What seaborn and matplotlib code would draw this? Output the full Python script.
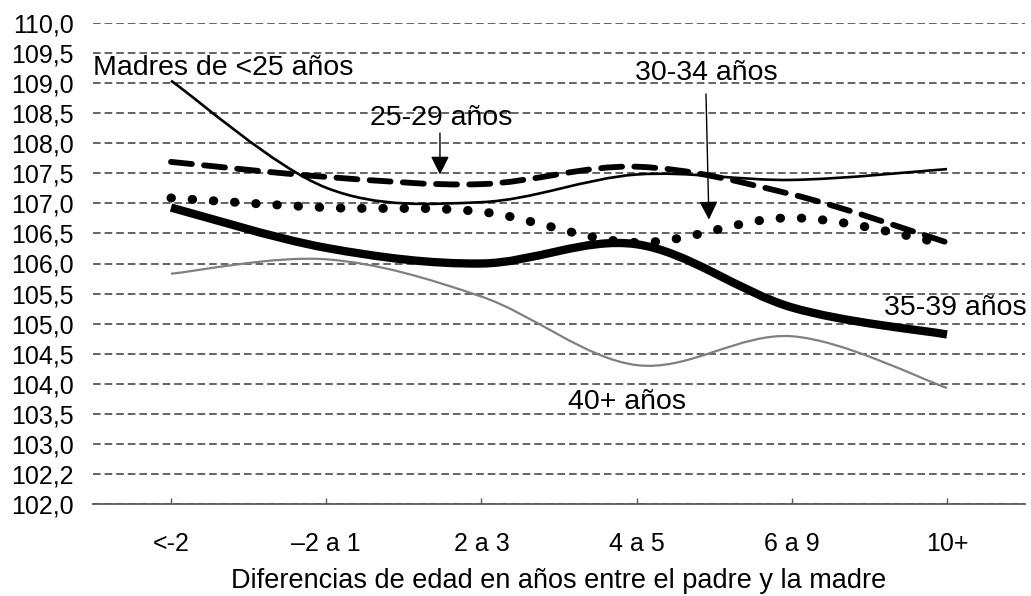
import numpy as np
import pandas as pd
import matplotlib
matplotlib.use("Agg")
import matplotlib.pyplot as plt
from matplotlib.path import Path
from matplotlib.patches import PathPatch
import seaborn as sns

# --- datos ---
categorias = ["<-2", "\u20132 a 1", "2 a 3", "4 a 5", "6 a 9", "10+"]
madres_menos_25 = [109.04, 107.26, 107.02, 107.48, 107.39, 107.57]
madres_25_29 = [107.69, 107.44, 107.32, 107.61, 107.15, 106.35]
madres_30_34 = [107.09, 106.93, 106.86, 106.35, 106.76, 106.32]
madres_35_39 = [106.93, 106.26, 106.00, 106.32, 105.27, 104.82]
madres_40_mas = [105.83, 106.07, 105.45, 104.31, 104.79, 103.93]
etiquetas_y = ["102,0", "102,2", "103,0", "103,5", "104,0", "104,5", "105,0",
               "105,5", "106,0", "106,5", "107,0", "107,5", "108,0", "108,5",
               "109,0", "109,5", "110,0"]

sns.set_theme(style="white")
plt.rcParams["font.family"] = ["Liberation Sans", "DejaVu Sans"]
plt.rcParams["text.color"] = "black"

df = pd.DataFrame({
    "categoria": categorias,
    "<25": madres_menos_25,
    "25-29": madres_25_29,
    "30-34": madres_30_34,
    "35-39": madres_35_39,
    "40+": madres_40_mas,
})
df["pos"] = np.arange(len(categorias))


def curva_suave(xs, ys):
    # suavizado tipo Excel: bezier cúbico que pasa por cada punto
    pts = np.column_stack([xs, ys]).astype(float)
    n = len(pts)
    verts = [pts[0]]
    codes = [Path.MOVETO]
    for i in range(n - 1):
        p0 = pts[max(i - 1, 0)]
        p1 = pts[i]
        p2 = pts[i + 1]
        p3 = pts[min(i + 2, n - 1)]
        verts += [p1 + (p2 - p0) / 6, p2 - (p3 - p1) / 6, p2]
        codes += [Path.CURVE4] * 3
    return Path(verts, codes)


estilos = {
    "40+": dict(color="#808080", lw=1.6, ls="-", capstyle="butt"),
    "<25": dict(color="black", lw=1.9, ls="-", capstyle="butt"),
    "25-29": dict(color="black", lw=4.2, ls=(0, (3.6, 2.1)), capstyle="round"),
    "30-34": dict(color="black", lw=6.5, ls=(0, (0.05, 2.3)), capstyle="round"),
    "35-39": dict(color="black", lw=6.0, ls="-", capstyle="butt"),
}

fig = plt.figure(figsize=(10.31, 5.96), dpi=100)
ax = fig.add_axes([93.4 / 1031, 92 / 596, 931.2 / 1031, 481 / 596])

for serie, st in estilos.items():
    patch = PathPatch(curva_suave(df["pos"], df[serie]), facecolor="none",
                      edgecolor=st["color"], lw=st["lw"], linestyle=st["ls"],
                      capstyle=st["capstyle"], joinstyle="round")
    ax.add_patch(patch)

ax.set_xlim(-0.5, 5.5)
ax.set_ylim(102, 110)
ax.set_yticks(np.arange(102.0, 110.01, 0.5))
ax.set_yticklabels(etiquetas_y)
ax.set_xticks(df["pos"])
ax.set_xticklabels(categorias)

ax.yaxis.grid(True, color="#3a3a3a", lw=1.1, linestyle=(0, (5, 2.6)))
ax.xaxis.grid(False)
sns.despine(ax=ax, left=True)
ax.spines["bottom"].set_color("#595959")
ax.spines["bottom"].set_linewidth(1.3)
ax.spines["bottom"].set_zorder(3)

ax.tick_params(axis="y", length=0, pad=14, labelsize=18, labelcolor="black")
ax.tick_params(axis="x", direction="in", length=4, width=1, color="#595959",
               pad=20, labelsize=18, labelcolor="black", bottom=True)
ax.set_xlabel("Diferencias de edad en años entre el padre y la madre",
              fontsize=19.5, color="black", labelpad=9)
ax.set_ylabel("")

# etiquetas de las series
tam = 20.5
ax.text(-0.503, 109.137, "Madres de <25 años", fontsize=tam, ha="left", va="baseline")
ax.text(1.74, 108.307, "25-29 años", fontsize=tam, ha="center", va="baseline")
ax.text(3.447, 109.054, "30-34 años", fontsize=tam, ha="center", va="baseline")
ax.text(5.513, 105.15, "35-39 años", fontsize=tam, ha="right", va="baseline")
ax.text(2.558, 103.577, "40+ años", fontsize=tam, ha="left", va="baseline")

flecha = dict(arrowstyle="-|>", mutation_scale=28, lw=1.0, color="black",
              shrinkA=0, shrinkB=0)
ax.annotate("", xy=(1.733, 107.48), xytext=(1.733, 108.17), arrowprops=flecha)
ax.annotate("", xy=(3.466, 106.73), xytext=(3.447, 108.82), arrowprops=flecha)

fig.savefig("out.png", dpi=100)
